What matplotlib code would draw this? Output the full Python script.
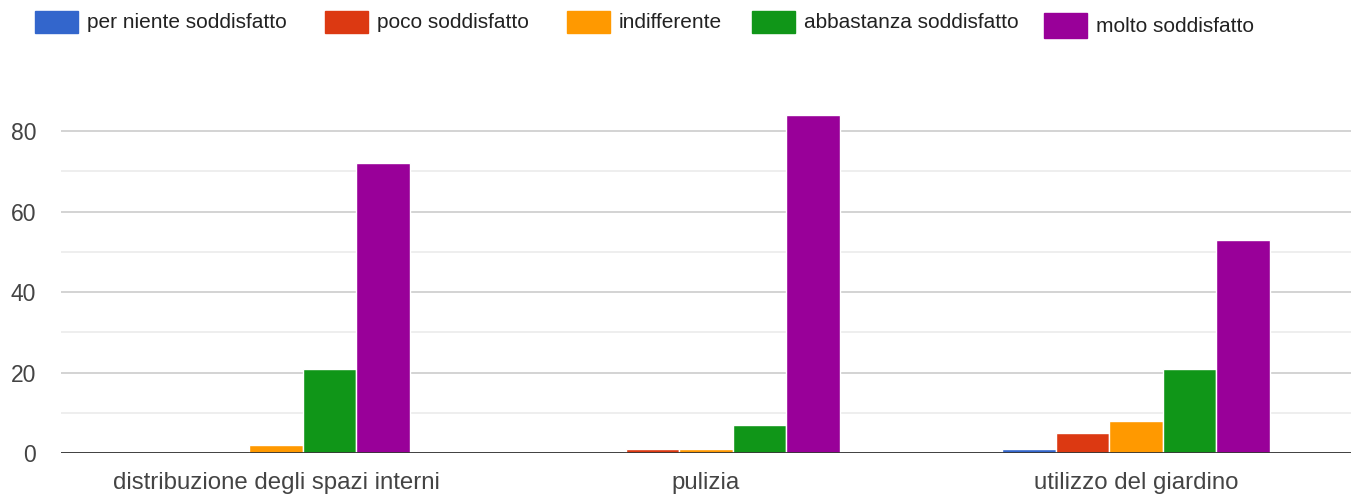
import matplotlib
matplotlib.use('Agg')
import matplotlib.pyplot as plt
import matplotlib.patches as mpatches
import numpy as np

# data
categories = ['distribuzione degli spazi interni', 'pulizia', 'utilizzo del giardino']
series = ['per niente soddisfatto', 'poco soddisfatto', 'indifferente',
          'abbastanza soddisfatto', 'molto soddisfatto']
values = {
    'per niente soddisfatto': [0, 0, 1],
    'poco soddisfatto': [0, 1, 5],
    'indifferente': [2, 1, 8],
    'abbastanza soddisfatto': [21, 7, 21],
    'molto soddisfatto': [72, 84, 53],
}
colors = ['#3366cc', '#dc3912', '#ff9900', '#109618', '#990099']
yticks = [0, 20, 40, 60, 80]

plt.rcParams['font.family'] = ['Liberation Sans', 'DejaVu Sans']

fig = plt.figure(figsize=(13.6, 4.95), dpi=100)
ax = fig.add_axes([0.0449, 0.0848, 0.9485, 0.687])

x = np.arange(len(categories))
bw = 0.1245
for i, s in enumerate(series):
    ax.bar(x + (i - 2) * bw, values[s], width=bw, color=colors[i],
           edgecolor='white', linewidth=1.0, zorder=3)

ax.set_xlim(-0.5, len(categories) - 0.5)
ax.set_ylim(0, 84.5)
ax.set_yticks(yticks)
ax.set_yticks([10, 30, 50, 70], minor=True)
ax.grid(axis='y', which='major', color='#cccccc', linewidth=1.2, zorder=0)
ax.grid(axis='y', which='minor', color='#ebebeb', linewidth=1.2, zorder=0)
ax.axhline(0, color='#333333', linewidth=2, zorder=4)
for sp in ax.spines.values():
    sp.set_visible(False)
ax.tick_params(axis='both', which='both', length=0, colors='#444444')
ax.tick_params(axis='y', labelsize=16.5, pad=18)
ax.tick_params(axis='x', labelsize=17.3, pad=14)
ax.set_xticks(x)
ax.set_xticklabels(categories)

# legend across the top
leg_x = [35, 325, 567, 752, 1044]
for i, s in enumerate(series):
    x0 = leg_x[i] / 1360
    h = 25 if i == 4 else 22
    yc = 25 if i == 4 else 22
    fig.patches.append(mpatches.Rectangle((x0, 1 - (yc + h / 2) / 495), 43 / 1360, h / 495,
                                          transform=fig.transFigure, color=colors[i]))
    fig.text(x0 + 52 / 1360, 1 - (yc + 1) / 495, s, fontsize=15, color='#222222',
             va='center', ha='left')

plt.savefig('out.png', dpi=100)
